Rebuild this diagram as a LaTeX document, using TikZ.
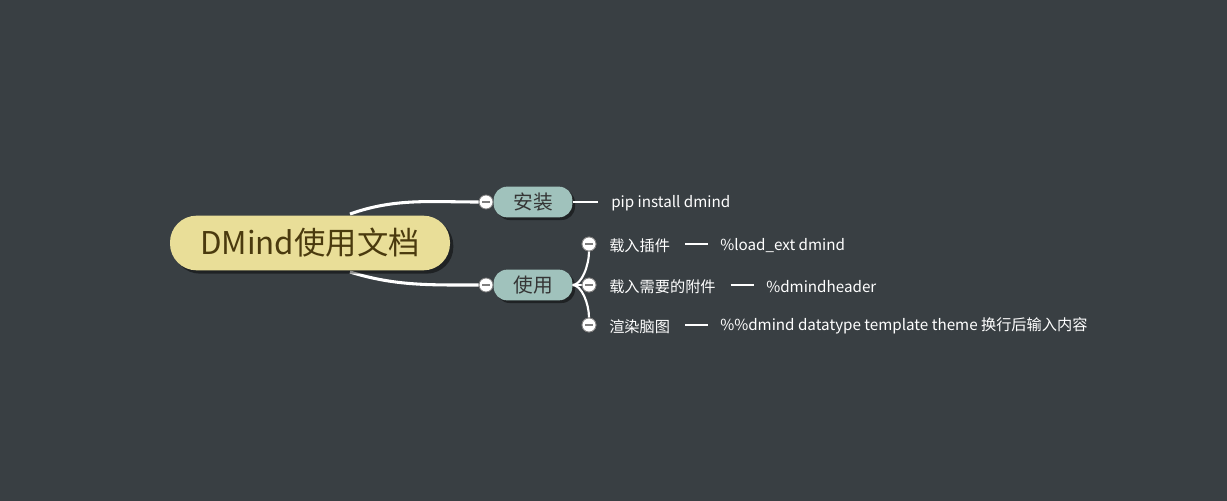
\documentclass[tikz,border=0pt]{standalone}
\usepackage{fontspec}
\setmainfont{Noto Sans CJK SC}
\usetikzlibrary{shadows}
\definecolor{bg}{HTML}{393F43}
\definecolor{rootfill}{HTML}{E9DE98}
\definecolor{roottext}{HTML}{4A3A0E}
\definecolor{brfill}{HTML}{A0C2BC}
\definecolor{brtext}{HTML}{353535}
\definecolor{colgray}{HTML}{7E7E7E}
\tikzset{
  rootbox/.style={fill=rootfill, text=roottext, rounded corners=20pt, minimum width=210pt, minimum height=41pt,
    font=\fontsize{23.5pt}{26pt}\selectfont, inner sep=0pt,
    drop shadow={shadow xshift=2.5pt, shadow yshift=-2.5pt, fill=black, opacity=0.45}},
  brbox/.style={fill=brfill, text=brtext, rounded corners=10pt, minimum width=59pt, minimum height=23pt,
    font=\fontsize{14.8pt}{16pt}\selectfont, inner sep=0pt,
    drop shadow={shadow xshift=2pt, shadow yshift=-2pt, fill=black, opacity=0.45}},
  colbtn/.style={circle, fill=white, draw=colgray, line width=0.6pt, minimum size=10.5pt, inner sep=0pt,
    path picture={\draw[colgray, line width=1.7pt] ([xshift=-3pt]path picture bounding box.center) -- ([xshift=3pt]path picture bounding box.center);}},
  link/.style={white, line width=2.3pt},
  sublink/.style={white, line width=1.6pt},
  leaf/.style={text=white, anchor=west, inner sep=0pt, yshift=-1pt, font=\fontsize{11.4pt}{13pt}\selectfont},
}
\begin{document}
\begin{tikzpicture}[x=0.75pt,y=-0.75pt]
\useasboundingbox (0,0) rectangle (1227,500);
\fill[bg] (-5,-5) rectangle (1232,505);

% anchors on root for curves
\coordinate (r1) at (350,214);
\coordinate (r2) at (350,272);

% collapse buttons
\node[colbtn] (c1) at (486,202) {};
\node[colbtn] (c2) at (486,285) {};
\node[colbtn] (c3) at (589,244) {};
\node[colbtn] (c4) at (589,285) {};
\node[colbtn] (c5) at (589,325) {};

% curves from root
\draw[link] (r1) .. controls (395,198) and (430,202) .. (c1.west);
\draw[link] (r2) .. controls (395,286) and (430,285) .. (c2.west);

% root node
\node[rootbox] (root) at (310,243) {DMind使用文档};

% branches
\node[brbox] (b1) at (533,202) {安装};
\node[brbox] (b2) at (533,285) {使用};

% leaf texts
\node[leaf] (t1) at (611,202) {pip install dmind};
\node[leaf] (s1) at (609,244) {载入插件};
\node[leaf] (s2) at (609,285) {载入需要的附件};
\node[leaf] (s3) at (609,325) {渲染脑图};
\node[leaf] (v1) at (720,244) {\%load\_ext dmind};
\node[leaf] (v2) at (766,285) {\%dmindheader};
\node[leaf] (v3) at (720,325) {\%\%dmind datatype template theme 换行后输入内容};

% connectors
\draw[sublink] (b1.east) -- ([xshift=-9.75pt,yshift=1pt]t1.west);
\draw[sublink] (b2.east) .. controls +(9,0) and +(0,14) .. (c3.south);
\draw[sublink] (b2.east) -- (c4.west);
\draw[sublink] (b2.east) .. controls +(9,0) and +(0,-14) .. (c5.north);
\draw[sublink] ([xshift=11pt,yshift=1pt]s1.east) -- ([xshift=-9pt,yshift=1pt]v1.west);
\draw[sublink] ([xshift=11pt,yshift=1pt]s2.east) -- ([xshift=-9pt,yshift=1pt]v2.west);
\draw[sublink] ([xshift=11pt,yshift=1pt]s3.east) -- ([xshift=-9pt,yshift=1pt]v3.west);

% redraw buttons on top
\node[colbtn] at (c3) {};
\node[colbtn] at (c4) {};
\node[colbtn] at (c5) {};
\end{tikzpicture}
\end{document}
